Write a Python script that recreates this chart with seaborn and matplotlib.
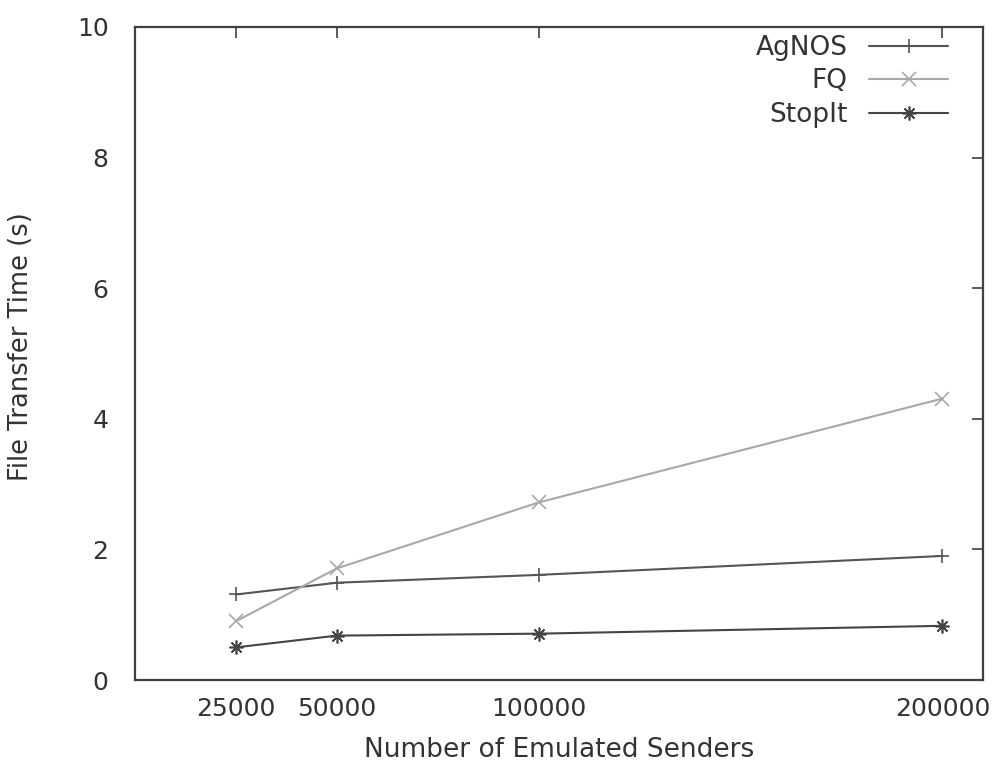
import matplotlib
matplotlib.use("Agg")
import matplotlib.pyplot as plt
import seaborn as sns
import pandas as pd

senders = [25000, 50000, 100000, 200000]
agnos = [1.31, 1.49, 1.61, 1.90]
fq = [0.90, 1.71, 2.72, 4.31]
stopit = [0.50, 0.68, 0.71, 0.83]
series_names = ["AgNOS", "FQ", "StopIt"]
y_ticks = [0, 2, 4, 6, 8, 10]

df = pd.DataFrame({
    "senders": senders * 3,
    "time": agnos + fq + stopit,
    "scheme": [n for n in series_names for _ in senders],
})

sns.set_theme(style="white")
plt.rcParams["font.family"] = ["DejaVu Sans"]

fig = plt.figure(figsize=(9.94, 7.67), dpi=100)
ax = fig.add_axes([0.1358, 0.1134, 0.853, 0.8514])

palette = {"AgNOS": "#555555", "FQ": "#a8a8a8", "StopIt": "#444444"}
markers = {"AgNOS": "+", "FQ": "x", "StopIt": (8, 2, 0)}
sns.lineplot(data=df, x="senders", y="time", hue="scheme", style="scheme",
             palette=palette, markers=markers, dashes=False, ax=ax,
             linewidth=1.5, markersize=10, legend=False)
for line in ax.get_lines():
    line.set_markeredgecolor(line.get_color())
    line.set_markeredgewidth(1.2)

ax.set_xlim(0, 210000)
ax.set_ylim(0, 10)
ax.set_xticks(senders)
ax.set_xticklabels([str(s) for s in senders])
ax.set_yticks(y_ticks)
ax.set_yticklabels([str(t) for t in y_ticks])
ax.tick_params(direction="in", length=8, width=1.2, color="#404040",
               labelsize=18, labelcolor="#333333", top=True, right=True)
ax.tick_params(axis="x", pad=12)
ax.tick_params(axis="y", pad=19)
for sp in ax.spines.values():
    sp.set_color("#404040")
    sp.set_linewidth(1.6)

ax.set_xlabel("Number of Emulated Senders", fontsize=19, color="#333333", labelpad=12)
ax.set_ylabel("File Transfer Time (s)", fontsize=18.5, color="#333333")
ax.yaxis.set_label_coords(-0.119, 0.51)

# legend built from the plotted lines
handles = ax.get_lines()[:3]
leg = ax.legend(handles, series_names, loc="upper right", frameon=False,
                markerfirst=False, fontsize=19, handlelength=3.0,
                handletextpad=0.8, labelspacing=0.29, borderpad=0,
                borderaxespad=0, bbox_to_anchor=(0.959, 0.988))
for t in leg.get_texts():
    t.set_color("#333333")

fig.savefig("out.png", dpi=100)
